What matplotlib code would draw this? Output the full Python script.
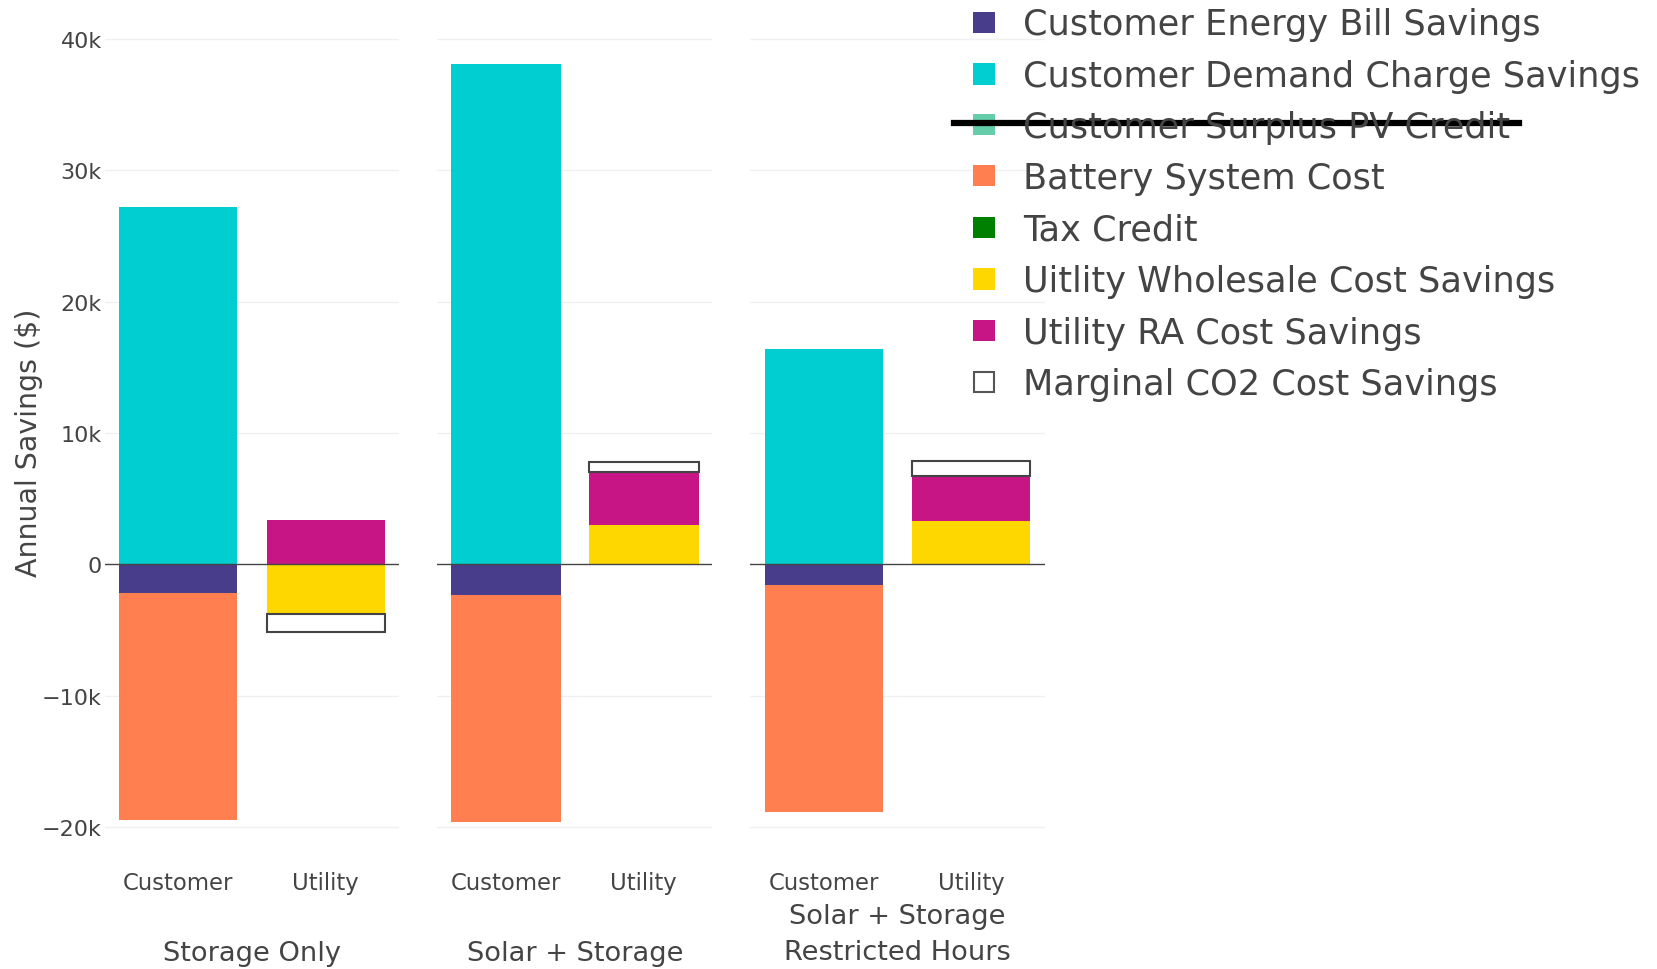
import matplotlib.pyplot as plt
from matplotlib.patches import Rectangle
from matplotlib.lines import Line2D
import numpy as np

# scenarios (one subplot each) and the two stacks inside each
scenarios = ['Storage Only', 'Solar + Storage', 'Solar + Storage\nRestricted Hours']
stacks = ['Customer', 'Utility']

# customer side ($/yr)
energy_bill = [-2180, -2300, -1570]
demand_charge = [27220, 38060, 16370]
surplus_pv = [0, 0, 0]
battery_cost = [-17290, -17290, -17260]
tax_credit = [0, 0, 0]
# utility side ($/yr)
wholesale = [-3800, 2990, 3300]
ra_savings = [3350, 4030, 3420]
co2_savings = [-1390, 760, 1140]

series = [
    ('Customer Energy Bill Savings', energy_bill, 'Customer', '#483D8B'),
    ('Customer Demand Charge Savings', demand_charge, 'Customer', '#00CED1'),
    ('Customer Surplus PV Credit', surplus_pv, 'Customer', '#66CDAA'),
    ('Battery System Cost', battery_cost, 'Customer', '#FF7F50'),
    ('Tax Credit', tax_credit, 'Customer', '#008000'),
    ('Uitlity Wholesale Cost Savings', wholesale, 'Utility', '#FFD700'),
    ('Utility RA Cost Savings', ra_savings, 'Utility', '#C71585'),
    ('Marginal CO2 Cost Savings', co2_savings, 'Utility', 'white'),
]

W, H = 1568.0, 918.0  # layout measured on this grid
fig = plt.figure(figsize=(16.57, 9.70), dpi=100)
plt.rcParams['font.family'] = 'DejaVu Sans'
txt = '#444444'

domains = [(99, 378), (414, 674), (710, 989)]
y_top, y_bot = 13, 796
ylim = (-21000, 42000)

for i, (name, (x0, x1)) in enumerate(zip(scenarios, domains)):
    ax = fig.add_axes([x0 / W, 1 - y_bot / H, (x1 - x0) / W, (y_bot - y_top) / H])
    pos = {s: 0.0 for s in stacks}
    neg = {s: 0.0 for s in stacks}
    for label, vals, stack, color in series:
        v = vals[i]
        if v == 0:
            continue
        xi = stacks.index(stack)
        base = pos[stack] if v > 0 else neg[stack]
        edge = '#444444' if color == 'white' else 'none'
        lw = 1.5 if color == 'white' else 0
        ax.bar(xi, v, bottom=base, width=0.8, color=color, edgecolor=edge, linewidth=lw, zorder=2)
        if v > 0:
            pos[stack] += v
        else:
            neg[stack] += v
    ax.set_xlim(-0.5, 1.5)
    ax.set_ylim(*ylim)
    for g in range(-20000, 40001, 10000):
        if g != 0:
            ax.axhline(g, color='#f0f0f0', lw=1, zorder=0)
    ax.axhline(0, color='#444444', lw=1, zorder=3)
    for sp in ax.spines.values():
        sp.set_visible(False)
    ax.set_xticks(range(len(stacks)))
    ax.set_xticklabels(stacks, fontsize=16.4, color=txt)
    ax.tick_params(axis='x', length=0, pad=22)
    ax.set_yticks(range(-20000, 40001, 10000))
    if i == 0:
        ax.set_yticklabels(['\u221220k', '\u221210k', '0', '10k', '20k', '30k', '40k'],
                           fontsize=16, color=txt)
        ax.tick_params(axis='y', length=0, pad=2)
    else:
        ax.tick_params(axis='y', length=0, labelleft=False)
    cx = (x0 + x1) / 2 / W
    if '\n' in name:
        fig.text(cx, 1 - 885 / H, name, ha='center', va='center', fontsize=19.6,
                 color=txt, linespacing=1.5)
    else:
        fig.text(cx, 1 - 903 / H, name, ha='center', va='center', fontsize=19.6, color=txt)

fig.text(27 / W, 1 - 419 / H, 'Annual Savings ($)', rotation=90, ha='center', va='center',
         fontsize=20.5, color=txt)

# legend
rows = [22, 71, 119, 167, 216, 265, 314, 362]
for (label, vals, stack, color), yc in zip(series, rows):
    if color == 'white':
        sq = Rectangle((922 / W, 1 - (yc + 10) / H), 19 / W, 19 / H, transform=fig.transFigure,
                       facecolor='white', edgecolor='#555555', lw=1.5)
    else:
        sq = Rectangle((921 / W, 1 - (yc + 10) / H), 21 / W, 20 / H, transform=fig.transFigure,
                       facecolor=color, edgecolor='none')
    fig.add_artist(sq)
    fig.text(968 / W, 1 - (yc + 2) / H, label, ha='left', va='center', fontsize=25.3, color=txt)

# strike-through drawn over the PV credit entry
fig.add_artist(Line2D([903 / W, 1437 / W], [1 - 117 / H, 1 - 117 / H], transform=fig.transFigure,
                      color='black', lw=4.5))

fig.savefig('out.png', dpi=100)
